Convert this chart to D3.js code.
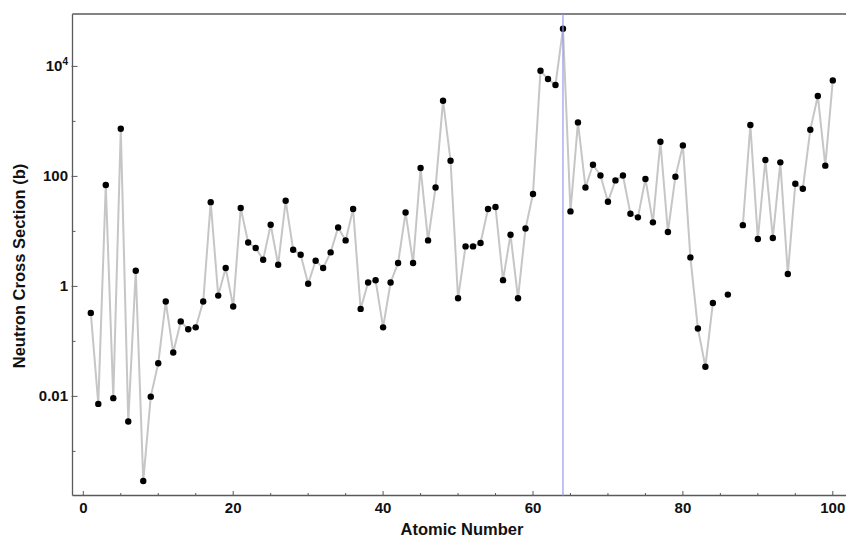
<!DOCTYPE html>
<html>
<head>
<meta charset="utf-8">
<script src="https://cdn.jsdelivr.net/npm/d3@7/dist/d3.min.js"></script>
<style>
  html, body { margin: 0; padding: 0; background: #fff; }
  svg { display: block; }
  text { font-family: "Liberation Sans", Arial, Helvetica, sans-serif; font-weight: bold; fill: #111; }
</style>
</head>
<body>
<svg id="chart" width="846" height="541"></svg>
<script>
// Atomic numbers 1..100
const atomicNumbers = d3.range(1, 101);
// Thermal neutron cross section (barns); null = no data
const crossSections = [
  0.33, 0.0073, 69.8, 0.0093, 736, 0.0035, 1.93, 0.00029, 0.0099, 0.04,
  0.53, 0.063, 0.231, 0.166, 0.18, 0.53, 34, 0.68, 2.16, 0.43,
  26.6, 6.3, 5.0, 3.06, 13.2, 2.48, 36, 4.65, 3.77, 1.12,
  2.93, 2.16, 4.15, 11.8, 6.86, 25.5, 0.39, 1.18, 1.29, 0.18,
  1.18, 2.66, 22, 2.66, 142, 6.86, 63, 2380, 193, 0.61,
  5.34, 5.34, 6.15, 25.5, 27.8, 1.3, 8.7, 0.61, 11.3, 48,
  8350, 5890, 4590, 48400, 23.1, 959, 63, 163, 104, 34.7,
  84.6, 104, 21, 18, 89.7, 14.6, 427, 9.75, 98.8, 366,
  3.37, 0.172, 0.0347, 0.5, null, 0.71, null, 13, 861, 7.27,
  199, 7.6, 180, 1.68, 73.6, 59.7, 706, 2900, 157, 5560
];
const highlightZ = 64;
const xTickValues = [0, 20, 40, 60, 80, 100];
const xMinorTicks = d3.range(0, 101, 5);
const yTickValues = [0.01, 1, 100, 10000];
const yMinorTicks = [0.001, 0.1, 10, 1000];
const xTitle = "Atomic Number";
const yTitle = "Neutron Cross Section (b)";

const data = atomicNumbers.map((z, i) => ({ z, v: crossSections[i] }));

const svg = d3.select("#chart");
const frame = { left: 72.5, right: 846, top: 14, bottom: 495.5 };

const x = d3.scaleLinear().domain([0, 100]).range([83.3, 832.8]);
const y = d3.scaleLog().domain([0.01, 10000]).range([396.4, 66.4]);

// frame lines
const axisColor = "#5a5a5a";
svg.append("line").attr("x1", frame.left).attr("x2", frame.right)
  .attr("y1", frame.top).attr("y2", frame.top)
  .attr("stroke", axisColor).attr("stroke-width", 1.6);
svg.append("line").attr("x1", frame.left).attr("x2", frame.right)
  .attr("y1", frame.bottom).attr("y2", frame.bottom)
  .attr("stroke", axisColor).attr("stroke-width", 1.3);
svg.append("line").attr("x1", frame.left).attr("x2", frame.left)
  .attr("y1", frame.top).attr("y2", frame.bottom)
  .attr("stroke", axisColor).attr("stroke-width", 1.3);

// x ticks (inward)
const xAxisG = svg.append("g");
xAxisG.selectAll("line.minor").data(xMinorTicks.filter(t => !xTickValues.includes(t)))
  .join("line").attr("class", "minor")
  .attr("x1", d => x(d)).attr("x2", d => x(d))
  .attr("y1", frame.bottom).attr("y2", frame.bottom - 2.5)
  .attr("stroke", axisColor).attr("stroke-width", 1);
xAxisG.selectAll("line.major").data(xTickValues)
  .join("line").attr("class", "major")
  .attr("x1", d => x(d)).attr("x2", d => x(d))
  .attr("y1", frame.bottom).attr("y2", frame.bottom - 4.5)
  .attr("stroke", axisColor).attr("stroke-width", 1);
xAxisG.selectAll("text").data(xTickValues)
  .join("text")
  .attr("x", d => x(d)).attr("y", 513)
  .attr("text-anchor", "middle")
  .attr("font-size", 15)
  .text(d => d3.format("d")(d));

// y ticks (inward)
const yAxisG = svg.append("g");
yAxisG.selectAll("line.minor").data(yMinorTicks)
  .join("line").attr("class", "minor")
  .attr("x1", frame.left).attr("x2", frame.left + 3)
  .attr("y1", d => y(d)).attr("y2", d => y(d))
  .attr("stroke", axisColor).attr("stroke-width", 1);
yAxisG.selectAll("line.major").data(yTickValues)
  .join("line").attr("class", "major")
  .attr("x1", frame.left - 1).attr("x2", frame.left + 5)
  .attr("y1", d => y(d)).attr("y2", d => y(d))
  .attr("stroke", axisColor).attr("stroke-width", 1);
const yLabels = yAxisG.selectAll("text").data(yTickValues)
  .join("text")
  .attr("x", frame.left - 4.5).attr("y", d => y(d) + 5)
  .attr("text-anchor", "end")
  .attr("font-size", 15);
yLabels.each(function(d) {
  const t = d3.select(this);
  if (d >= 10000) {
    const e = Math.round(Math.log10(d));
    t.append("tspan").text("10");
    t.append("tspan").attr("font-size", 10).attr("dy", -6).text(e);
  } else {
    t.text(d3.format("~g")(d));
  }
});

// titles
svg.append("text").attr("x", 462).attr("y", 535)
  .attr("text-anchor", "middle").attr("font-size", 16.5).text(xTitle);
svg.append("text")
  .attr("transform", "translate(25," + 266 + ") rotate(-90)")
  .attr("text-anchor", "middle").attr("font-size", 16.5).text(yTitle);

// line
const line = d3.line()
  .defined(d => d.v != null)
  .x(d => x(d.z)).y(d => y(d.v));
svg.append("path").datum(data)
  .attr("d", line)
  .attr("fill", "none")
  .attr("stroke", "#c6c6c6")
  .attr("stroke-width", 2)
  .attr("stroke-linejoin", "round");

// points
svg.append("g").selectAll("circle")
  .data(data.filter(d => d.v != null))
  .join("circle")
  .attr("cx", d => x(d.z)).attr("cy", d => y(d.v))
  .attr("r", 3.2).attr("fill", "#000");

// highlight vertical line
svg.append("line")
  .attr("x1", x(highlightZ)).attr("x2", x(highlightZ))
  .attr("y1", frame.top).attr("y2", frame.bottom)
  .attr("stroke", "#9a9ae6").attr("stroke-width", 1.2);
</script>
</body>
</html>
